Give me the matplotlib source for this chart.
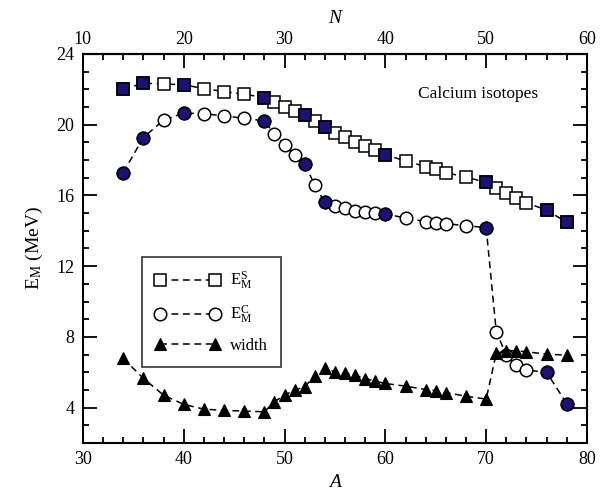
import matplotlib
matplotlib.use("Agg")
import matplotlib.pyplot as plt
from matplotlib.ticker import MultipleLocator, FixedLocator

plt.rcParams['font.family'] = ['Liberation Serif', 'DejaVu Serif']
plt.rcParams['mathtext.fontset'] = 'custom'
plt.rcParams['mathtext.rm'] = 'Liberation Serif'
plt.rcParams['mathtext.it'] = 'Liberation Serif:italic'

# Mass numbers of the calcium isotopes
mass_a = [34, 36, 38, 40, 42, 44, 46, 48, 49, 50, 51, 52, 53, 54, 55, 56, 57,
          58, 59, 60, 62, 64, 65, 66, 68, 70, 71, 72, 73, 74, 76, 78]

# Sum-rule energy E_M^S (MeV)
e_s = [22.0, 22.34, 22.3, 22.25, 22.04, 21.87, 21.72, 21.53, 21.27, 21.02,
       20.78, 20.53, 20.21, 19.85, 19.55, 19.29, 19.04, 18.8, 18.57, 18.29,
       17.95, 17.63, 17.48, 17.29, 17.03, 16.74, 16.4, 16.12, 15.87, 15.59,
       15.16, 14.48]

# Centroid energy E_M^C (MeV)
e_c = [17.29, 19.27, 20.25, 20.65, 20.62, 20.49, 20.36, 20.21, 19.46, 18.84,
       18.29, 17.78, 16.59, 15.6, 15.4, 15.27, 15.14, 15.06, 15.0, 14.97,
       14.71, 14.52, 14.46, 14.4, 14.29, 14.18, 8.3, 6.97, 6.41, 6.13,
       6.0, 4.22]

# Resonance width (MeV)
width = [6.79, 5.66, 4.71, 4.19, 3.92, 3.85, 3.81, 3.77, 4.34, 4.71, 5.0,
         5.18, 5.8, 6.22, 6.03, 5.94, 5.84, 5.65, 5.5, 5.37, 5.22, 5.03, 4.96,
         4.86, 4.65, 4.49, 7.07, 7.22, 7.22, 7.16, 7.03, 6.97]

# Isotopes highlighted with filled symbols
highlight_a = [34, 36, 40, 48, 52, 54, 60, 70, 76, 78]

# Neutron-number ticks on the top axis
n_major = [10, 20, 30, 40, 50, 60]
n_minor = list(range(10, 61, 2))

navy = '#1c1276'
dash = (0, (4.5, 3))

fig = plt.figure(figsize=(6.14, 4.94), dpi=100)
ax = fig.add_axes([0.135, 0.103, 0.821, 0.788])

ax.plot(mass_a, e_s, linestyle=dash, color='black', lw=1.1, marker='s',
        ms=8, mfc='white', mec='black', mew=1.1,
        label=r'E$_{\rm M}^{\rm S}$', zorder=3)
ax.plot(mass_a, e_c, linestyle=dash, color='black', lw=1.1, marker='o',
        ms=9, mfc='white', mec='black', mew=1.1,
        label=r'E$_{\rm M}^{\rm C}$', zorder=3)
ax.plot(mass_a, width, linestyle=dash, color='black', lw=1.1, marker='^',
        ms=9, mfc='black', mec='black', mew=0.8, label='width', zorder=3)

hs = [e for a, e in zip(mass_a, e_s) if a in highlight_a]
hc = [e for a, e in zip(mass_a, e_c) if a in highlight_a]
ax.plot(highlight_a, hs, linestyle='none', marker='s', ms=8, mfc=navy,
        mec='black', mew=1.1, zorder=4)
ax.plot(highlight_a, hc, linestyle='none', marker='o', ms=9, mfc=navy,
        mec='black', mew=1.1, zorder=4)

ax.set_xlim(30, 80)
ax.set_ylim(2, 24)
ax.xaxis.set_major_locator(MultipleLocator(10))
ax.xaxis.set_minor_locator(MultipleLocator(2))
ax.yaxis.set_major_locator(FixedLocator([4, 8, 12, 16, 20, 24]))
ax.yaxis.set_minor_locator(MultipleLocator(1))

ax.tick_params(which='both', direction='in', right=True, top=False,
               labelsize=13, width=1.3)
ax.tick_params(which='major', length=10, pad=6)
ax.tick_params(which='minor', length=4.5)
for sp in ax.spines.values():
    sp.set_linewidth(1.5)

top = ax.secondary_xaxis('top', functions=(lambda a: a - 20, lambda n: n + 20))
top.xaxis.set_major_locator(FixedLocator(n_major))
top.xaxis.set_minor_locator(FixedLocator(n_minor))
top.tick_params(which='both', direction='in', labelsize=13, width=1.3)
top.tick_params(which='major', length=10, pad=4)
top.tick_params(which='minor', length=4.5)
top.spines['top'].set_linewidth(1.5)
top.set_xlabel('N', fontsize=14, style='italic', labelpad=6)

ax.set_xlabel('A', fontsize=14, style='italic', labelpad=4)
ax.set_ylabel(r'E$_{\rm M}$ (MeV)', fontsize=14, labelpad=8)

ax.text(69.2, 21.72, 'Calcium isotopes', fontsize=12.5, ha='center',
        va='center')

leg = ax.legend(loc='upper left', bbox_to_anchor=(0.1, 0.50), numpoints=2,
                handlelength=3.9, fontsize=12, frameon=True, fancybox=False,
                edgecolor='black', borderpad=0.8, labelspacing=0.7,
                handletextpad=0.6)
leg.get_frame().set_linewidth(1.2)

fig.savefig('out.png', dpi=100)
